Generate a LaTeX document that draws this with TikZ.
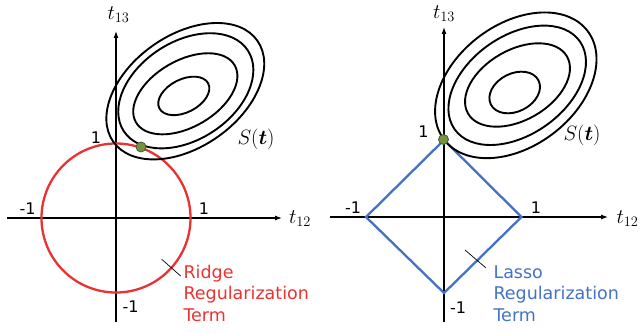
\documentclass[tikz,border=0pt]{standalone}
\usepackage[no-math]{fontspec}
\usepackage{amsmath}
\usepackage{tikz}
\usetikzlibrary{arrows.meta}
\newfontfamily\labelfont{DejaVu Sans}
\definecolor{ridgered}{RGB}{234,50,50}
\definecolor{lassoblue}{RGB}{68,114,196}
\definecolor{dotgreen}{RGB}{118,146,62}
\definecolor{dotedge}{RGB}{70,90,38}

\begin{document}
\begin{tikzpicture}[
    x=1pt, y=-1pt,
    axis/.style={-{Latex[length=7pt,width=5pt]}, line width=1.1pt},
    contour/.style={line width=1.9pt},
    ridge/.style={ridgered, line width=2.3pt},
    lasso/.style={lassoblue, line width=2.3pt},
    touch/.style={circle, fill=dotgreen, draw=dotedge, line width=0.8pt,
                  inner sep=0pt, minimum size=10pt},
    ticknum/.style={font=\labelfont\fontsize{16}{16}\selectfont, inner sep=0pt},
    axlabel/.style={font=\fontsize{20}{20}\selectfont, inner sep=0pt},
    termtext/.style={font=\labelfont\fontsize{17.5}{21.5}\selectfont,
                     align=left, inner sep=0pt, anchor=base west},
    pointer/.style={line width=0.7pt},
]
\useasboundingbox (0,0) rectangle (640,334);

% Ridge: axes
\coordinate (rO) at (116,218);
\coordinate (rXlo) at (7,218);
\coordinate (rXhi) at (282,218);
\coordinate (rYlo) at (116,322);
\coordinate (rYhi) at (116,31);
\draw[axis] (rXlo) -- (rXhi);
\draw[axis] (rYlo) -- (rYhi);

% Ridge: constraint circle
\draw[ridge] (rO) circle [radius=74.5];

% Ridge: contours of S(t)
\draw[contour, rotate around={35:(185.3,91.2)}] (185.3,91.2) ellipse [x radius=88, y radius=56];
\draw[contour, rotate around={33:(185.8,90.8)}] (185.8,90.8) ellipse [x radius=74, y radius=49];
\draw[contour, rotate around={30:(185.3,93.8)}] (185.3,93.8) ellipse [x radius=57, y radius=33.3];
\draw[contour, rotate around={27:(183.8,95.9)}] (183.8,95.9) ellipse [x radius=27.4, y radius=16.5];
\node[touch] (rdot) at (141,147) {};

% Ridge: labels
\node[axlabel] (rt13) at (118.5,15) {$t_{13}$};
\node[axlabel] (rt12) at (300,219) {$t_{12}$};
\node[axlabel] (rS) at (256,139) {$S(\boldsymbol{t})$};
\node[ticknum] (rtop) at (96,137.5) {1};
\node[ticknum] (rleft) at (27.5,208.5) {-1};
\node[ticknum] (rright) at (204,208.5) {1};
\node[ticknum] (rbot) at (130.5,306.5) {-1};
\node[termtext, text=ridgered] (rterm) at (183.3,321) {Ridge\\Regularization\\Term};
\coordinate (rpA) at (161.7,259.3);
\coordinate (rpB) at (180.7,276);
\draw[pointer] (rpA) -- (rpB);

% Lasso: axes
\coordinate (lO) at (444,217);
\coordinate (lXlo) at (330,217);
\coordinate (lXhi) at (608,217);
\coordinate (lYlo) at (444,322);
\coordinate (lYhi) at (444,27);
\draw[axis] (lXlo) -- (lXhi);
\draw[axis] (lYlo) -- (lYhi);

% Lasso: constraint diamond
\coordinate (lN) at (444,140);
\coordinate (lE) at (521.5,217);
\coordinate (lS) at (444,293);
\coordinate (lW) at (366,217);
\draw[lasso, line join=miter] (lN) -- (lE) -- (lS) -- (lW) -- cycle;

% Lasso: contours of S(t)
\draw[contour, rotate around={37:(515.8,85.3)}] (515.8,85.3) ellipse [x radius=90, y radius=61];
\draw[contour, rotate around={35:(517.2,85.3)}] (517.2,85.3) ellipse [x radius=76.5, y radius=49.4];
\draw[contour, rotate around={30:(517.5,85)}] (517.5,85) ellipse [x radius=57.1, y radius=35.1];
\draw[contour, rotate around={27:(514.7,92.5)}] (514.7,92.5) ellipse [x radius=26.7, y radius=19];
\node[touch] (ldot) at (443.5,139.5) {};

% Lasso: labels
\node[axlabel] (lt13) at (444,14) {$t_{13}$};
\node[axlabel] (lt12) at (627.5,219) {$t_{12}$};
\node[axlabel] (lS) at (582,135) {$S(\boldsymbol{t})$};
\node[ticknum] (ltop) at (423.5,131.5) {1};
\node[ticknum] (lleft) at (353,207.5) {-1};
\node[ticknum] (lright) at (536,207.5) {1};
\node[ticknum] (lbot) at (458,308) {-1};
\node[termtext, text=lassoblue] (lterm) at (493.3,321) {Lasso\\Regularization\\Term};
\coordinate (lpA) at (465,250);
\coordinate (lpB) at (485.7,267.7);
\draw[pointer] (lpA) -- (lpB);

\end{tikzpicture}
\end{document}
